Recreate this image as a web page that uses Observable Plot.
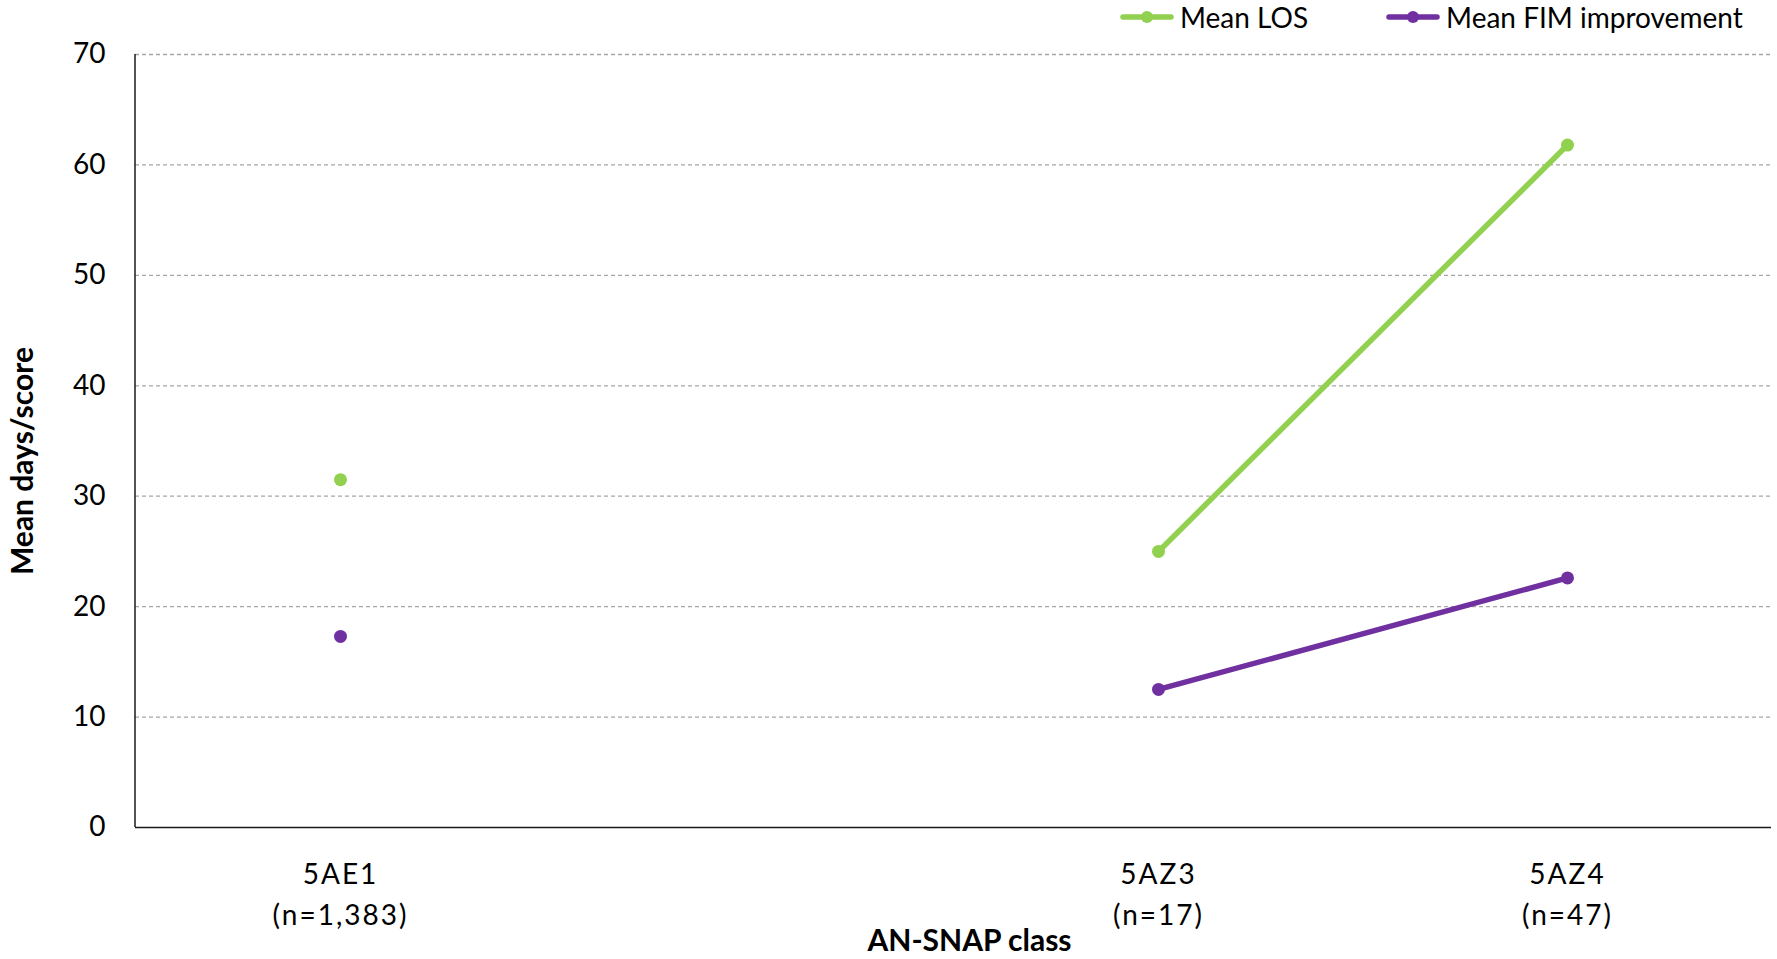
<!DOCTYPE html>
<html>
<head>
<meta charset="utf-8">
<script src="https://cdn.jsdelivr.net/npm/d3@7"></script>
<script src="https://cdn.jsdelivr.net/npm/@observablehq/plot@0.6"></script>
<style>
  html, body { margin: 0; padding: 0; background: #fff; }
  #wrap { position: relative; width: 1777px; height: 959px; font-family: Lato, "Open Sans", sans-serif; }
  #legend { position: absolute; top: 0; left: 1120px; height: 34px; display: flex; align-items: center; font-size: 28px; color: #000; }
  .item { display: flex; align-items: center; }
  .item + .item { margin-left: 78px; }
  .item svg { margin-right: 6px; }
</style>
</head>
<body>
<div id="wrap">
  <div id="chart"></div>
  <div id="legend"></div>
</div>
<script>
const categories = ["5AE1", "", "5AZ3", "5AZ4"];
const sampleSizes = ["n=1,383", "", "n=17", "n=47"];
const meanLOS = [31.5, null, 25.0, 61.8];
const meanFIM = [17.3, null, 12.5, 22.6];
const seriesNames = ["Mean LOS", "Mean FIM improvement"];
const seriesColors = ["#92D050", "#7030A0"];
const yTicks = [0, 10, 20, 30, 40, 50, 60, 70];

const seriesValues = [meanLOS, meanFIM];
const data = [];
seriesNames.forEach((s, k) => {
  categories.forEach((c, i) => data.push({cat: c, series: s, value: seriesValues[k][i]}));
});

const yAxisLine = (index, scales, values, dimensions) => {
  const g = d3.create("svg:g");
  g.append("line")
    .attr("x1", dimensions.marginLeft).attr("x2", dimensions.marginLeft)
    .attr("y1", dimensions.marginTop).attr("y2", dimensions.height - dimensions.marginBottom)
    .attr("stroke", "#1a1a1a").attr("stroke-width", 1.5);
  return g.node();
};

const chart = Plot.plot({
  width: 1777,
  height: 959,
  marginTop: 54,
  marginBottom: 132,
  marginLeft: 135,
  marginRight: 6,
  style: {fontFamily: "Lato, 'Open Sans', sans-serif", fontSize: "27px", color: "#000", background: "#fff"},
  x: {type: "point", domain: categories, padding: 0.5, label: null},
  y: {domain: [0, 70], label: null},
  color: {domain: seriesNames, range: seriesColors},
  marks: [
    Plot.gridY(yTicks.filter(d => d > 0), {stroke: "#a6a6a6", strokeOpacity: 1, strokeWidth: 1.3, strokeDasharray: "4,3"}),
    Plot.axisY(yTicks, {tickSize: 0, tickPadding: 30, fontSize: 28, label: "Mean days/score", labelArrow: "none", labelAnchor: "center", labelOffset: 124}),
    Plot.axisX({
      tickSize: 0, tickPadding: 28, lineHeight: 1.45, fontSize: 28,
      tickFormat: d => d ? `${d}\n(${sampleSizes[categories.indexOf(d)]})` : "",
      label: "AN-SNAP class", labelArrow: "none", labelAnchor: "center", labelOffset: 123
    }),
    Plot.ruleY([0], {stroke: "#1a1a1a", strokeWidth: 1.5}),
    yAxisLine,
    Plot.line(data, {x: "cat", y: "value", z: "series", stroke: "series", strokeWidth: 5.5}),
    Plot.dot(data, {x: "cat", y: "value", fill: "series", r: 6.5})
  ]
});
const sel = d3.select(chart);
// axis titles: bold, larger, no arrow
sel.selectAll("[aria-label='x-axis label'] text, [aria-label='y-axis label'] text")
  .attr("font-weight", "bold")
  .attr("font-size", 30)
  .text(function() { return this.textContent.replace(/\s*[→↑←↓]\s*/g, ""); });
sel.selectAll("[aria-label='y-axis label'] text").attr("dx", -20);
sel.selectAll("[aria-label='x-axis label'] text").attr("dx", 16);
// x tick labels: wider tracking as in the reference
sel.selectAll("[aria-label='x-axis tick label'] text").attr("letter-spacing", "2px");
document.getElementById("chart").appendChild(chart);

const legend = d3.select("#legend");
seriesNames.forEach((s, k) => {
  const item = legend.append("div").attr("class", "item");
  const sv = item.append("svg").attr("width", 54).attr("height", 14);
  sv.append("line").attr("x1", 3).attr("x2", 51).attr("y1", 7).attr("y2", 7)
    .attr("stroke", seriesColors[k]).attr("stroke-width", 5.5).attr("stroke-linecap", "round");
  sv.append("circle").attr("cx", 27).attr("cy", 7).attr("r", 6).attr("fill", seriesColors[k]);
  item.append("span").text(s);
});
</script>
</body>
</html>
